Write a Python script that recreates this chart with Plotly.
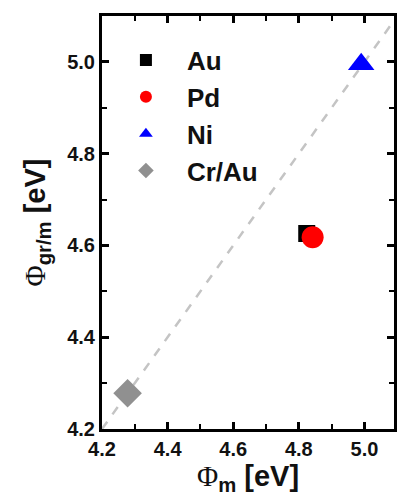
import plotly.graph_objects as go

names = ["Au", "Pd", "Ni", "Cr/Au"]
phi_m = [4.824, 4.842, 4.99, 4.278]
phi_grm = [4.626, 4.618, 4.995, 4.278]
colors = ["#000000", "#ff0000", "#0000ff", "#909090"]
symbols = ["square", "circle", "triangle-up", "diamond"]
sizes = [17, 22, 23, 22]
diag = [4.2, 5.1]

fig = go.Figure()
fig.add_trace(go.Scatter(x=diag, y=diag, mode="lines", showlegend=False,
                         line=dict(color="#c4c4c4", width=2.5, dash="dash")))
for i, n in enumerate(names):
    fig.add_trace(go.Scatter(x=[phi_m[i]], y=[phi_grm[i]], mode="markers", name=n,
                             legendgroup=n,
                             marker=dict(color=colors[i], symbol=symbols[i], size=sizes[i],
                                         line=dict(width=0))))

axis_common = dict(showline=True, linewidth=3, linecolor="black", mirror="ticks",
                   ticks="inside", ticklen=7, tickwidth=2.5, tickcolor="black",
                   showgrid=False, zeroline=False,
                   tickfont=dict(family="Liberation Sans", size=20, color="#111", weight="bold"),
                   minor=dict(ticks="inside", ticklen=5, tickwidth=2, dtick=0.1, tickcolor="black"))

phi = '<span style="font-family:Liberation Serif;font-weight:normal">Φ</span>'
fig.update_xaxes(range=[4.2, 5.09], dtick=0.2, tickformat=".1f", **axis_common,
                 title=dict(text=phi + "<sub>m</sub> [eV]", standoff=4,
                            font=dict(family="Liberation Sans", size=29, color="#111", weight="bold")))
fig.update_yaxes(range=[4.2, 5.1], dtick=0.2, tickformat=".1f", **axis_common,
                 title=dict(text=phi + "<sub>gr/m</sub> [eV]", standoff=14,
                            font=dict(family="Liberation Sans", size=29, color="#111", weight="bold")))

fig.update_layout(
    width=398, height=501,
    margin=dict(l=102, r=1, t=16, b=72),
    plot_bgcolor="white", paper_bgcolor="white",
    legend=dict(x=0.01, y=0.95, xanchor="left", yanchor="top", itemsizing="constant",
                itemwidth=72, tracegroupgap=0, bgcolor="rgba(0,0,0,0)",
                font=dict(family="Liberation Sans", size=26, color="#111", weight="bold")),
)
fig.write_html("out.html")
